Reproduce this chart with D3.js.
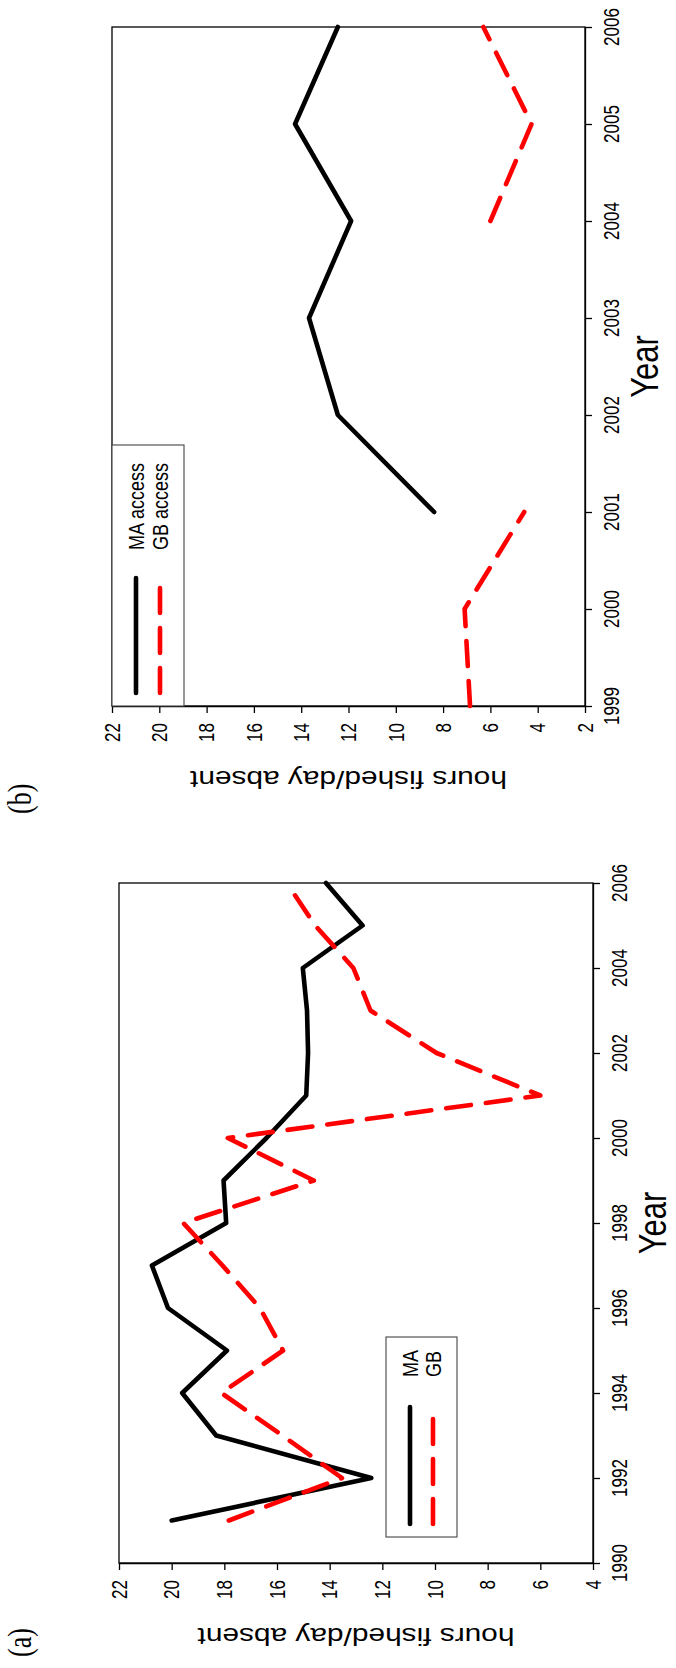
<!DOCTYPE html>
<html>
<head>
<meta charset="utf-8">
<script src="https://cdn.jsdelivr.net/npm/d3@7/dist/d3.min.js"></script>
<style>
  body { margin: 0; background: #fff; }
  svg { display: block; }
</style>
</head>
<body>
<svg id="fig" width="676" height="1668"></svg>
<script>
// ---- data: hours fished per day absent ----
const yearsA = [1991, 1992, 1993, 1994, 1995, 1996, 1997, 1998, 1999, 2000, 2001, 2002, 2003, 2004, 2005, 2006];
const maHours = [20.0, 12.42, 18.31, 19.6, 17.9, 20.14, 20.75, 17.93, 18.03, 16.4, 14.89, 14.82, 14.86, 15.02, 12.75, 14.14];
const gbHours = [17.83, 13.53, 15.8, 18.11, 15.77, 16.65, 18.07, 19.56, 14.6, 17.87, 6.0, 9.94, 12.45, 13.1, 14.55, 15.63];

const yearsB = [1999, 2000, 2001, 2002, 2003, 2004, 2005, 2006];
const maAccess = [null, null, 8.38, 12.45, 13.67, 11.89, 14.26, 12.45];
const gbAccess = [6.86, 7.09, 4.57, null, null, 6.0, 4.26, 6.3];

const hourTicksA = [22, 20, 18, 16, 14, 12, 10, 8, 6, 4];
const hourTicksB = [22, 20, 18, 16, 14, 12, 10, 8, 6, 4, 2];
const yearTicksA = [1990, 1992, 1994, 1996, 1998, 2000, 2002, 2004, 2006];
const yearTicksB = [1999, 2000, 2001, 2002, 2003, 2004, 2005, 2006];

// ---- page setup: the figure is laid on its side, glyphs widened across the page ----
const SX = 1.27;
const SANS = "'Liberation Sans', Arial, Helvetica, sans-serif";
const SERIF = "'Liberation Serif', 'Times New Roman', serif";
const svg = d3.select('#fig');

// text reading bottom-to-top
function upText(g, x, y, str, size, anchor, dy, family) {
  return g.append('text')
    .attr('transform', `translate(${x},${y}) scale(${SX},1) rotate(-90)`)
    .attr('text-anchor', anchor)
    .attr('dy', dy)
    .style('font-family', family || SANS)
    .style('font-size', size + 'px')
    .attr('fill', '#000')
    .text(str);
}
// text turned upside down (reads right-to-left)
function flipText(g, x, y, str, size) {
  return g.append('text')
    .attr('transform', `translate(${x},${y}) scale(${SX},1) rotate(180)`)
    .attr('text-anchor', 'middle')
    .style('font-family', SANS)
    .style('font-size', size + 'px')
    .attr('fill', '#000')
    .text(str);
}

function drawPanel(cfg) {
  const g = svg.append('g');
  const x = d3.scaleLinear().domain(cfg.hDomain).range([cfg.left, cfg.right]);
  const y = d3.scaleLinear().domain(cfg.yDomain).range([cfg.bottom, cfg.top]);

  // hours axis (along the bottom edge)
  const hAxis = g.append('g')
    .attr('transform', `translate(0,${cfg.bottom})`)
    .call(d3.axisBottom(x).tickValues(cfg.hTicks).tickSize(7).tickSizeOuter(0).tickFormat(''));
  // year axis (along the right edge)
  const yAxis = g.append('g')
    .attr('transform', `translate(${cfg.right},0)`)
    .call(d3.axisRight(y).tickValues(cfg.yTicks).tickSize(7).tickSizeOuter(0).tickFormat(''));
  [hAxis, yAxis].forEach(a => {
    a.selectAll('path, line').attr('stroke', '#000').attr('stroke-width', 1.3);
  });

  // frame
  g.append('rect')
    .attr('x', cfg.left).attr('y', cfg.top)
    .attr('width', cfg.right - cfg.left).attr('height', cfg.bottom - cfg.top)
    .attr('fill', 'none').attr('stroke', '#000').attr('stroke-width', 1.3);

  // tick labels
  cfg.hTicks.forEach(t => upText(g, x(t), cfg.bottom + 17, String(t), 17, 'end', '0.36em'));
  cfg.yTicks.forEach(t => upText(g, cfg.right + 26.5, y(t), String(t), 17, 'middle', '0.36em'));

  // axis titles
  flipText(g, (cfg.left + cfg.right) / 2, cfg.bottom + 65, 'hours fished/day absent', 23.5);
  upText(g, cfg.right + 73, (cfg.top + cfg.bottom) / 2, 'Year', 31, 'middle', '0');

  // panel tag
  upText(g, 23, cfg.tagY, cfg.tag, 26, 'start', '0.25em', SERIF);

  // series
  const line = d3.line()
    .defined(d => d.v != null)
    .x(d => x(d.v))
    .y(d => y(d.yr));
  cfg.series.forEach(s => {
    const pts = cfg.years.map((yr, i) => ({ yr, v: s.values[i] }));
    g.append('path')
      .datum(pts)
      .attr('d', line)
      .attr('fill', 'none')
      .attr('stroke', s.color)
      .attr('stroke-width', 4.6)
      .attr('stroke-linecap', 'round')
      .attr('stroke-linejoin', 'round')
      .attr('stroke-dasharray', s.dash || null);
  });

  // legend
  const L = cfg.legend;
  g.append('rect')
    .attr('x', L.x0).attr('y', L.y0)
    .attr('width', L.x1 - L.x0).attr('height', L.y1 - L.y0)
    .attr('fill', '#fff').attr('stroke', '#444').attr('stroke-width', 1.1);
  cfg.series.forEach((s, i) => {
    const lx = L.rows[i];
    g.append('line')
      .attr('x1', lx).attr('x2', lx)
      .attr('y1', L.lineStart).attr('y2', L.lineEnd)
      .attr('stroke', s.color)
      .attr('stroke-width', 4.6)
      .attr('stroke-linecap', 'round')
      .attr('stroke-dasharray', s.dash || null);
    upText(g, lx, L.textY, s.name, 18, 'start', '0.36em');
  });
}

const DASH = '25,15';

drawPanel({
  tag: '(a)', tagY: 1657,
  left: 119, right: 593, top: 883, bottom: 1563,
  hDomain: [22, 4], yDomain: [1990, 2006],
  hTicks: hourTicksA, yTicks: yearTicksA,
  years: yearsA,
  series: [
    { name: 'MA', values: maHours, color: '#000' },
    { name: 'GB', values: gbHours, color: '#ff0000', dash: DASH }
  ],
  legend: { x0: 386, x1: 457, y0: 1337, y1: 1537, rows: [410, 433], lineStart: 1524, lineEnd: 1407, textY: 1377 }
});

drawPanel({
  tag: '(b)', tagY: 814,
  left: 112, right: 585, top: 27, bottom: 706,
  hDomain: [22, 2], yDomain: [1999, 2006],
  hTicks: hourTicksB, yTicks: yearTicksB,
  years: yearsB,
  series: [
    { name: 'MA access', values: maAccess, color: '#000' },
    { name: 'GB access', values: gbAccess, color: '#ff0000', dash: DASH }
  ],
  legend: { x0: 112, x1: 184, y0: 445, y1: 706, rows: [136, 160], lineStart: 693, lineEnd: 578, textY: 550 }
});
</script>
</body>
</html>
